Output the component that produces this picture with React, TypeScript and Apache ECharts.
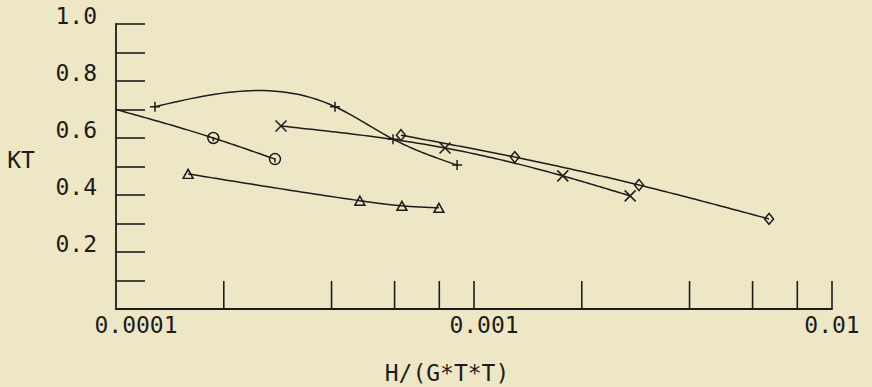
import React, { useEffect, useRef } from "react";
import * as echarts from "echarts";

// ---- data ----
const plusX = [1.285e-4, 4.09e-4, 5.94e-4, 8.97e-4];
const plusY = [0.71, 0.71, 0.596, 0.505];

const circleX = [1.0e-4, 1.87e-4, 2.78e-4];
const circleY = [0.7, 0.6, 0.526];
const circleMarked = [false, true, true];

const crossX = [2.89e-4, 8.3e-4, 1.77e-3, 2.73e-3];
const crossY = [0.642, 0.565, 0.467, 0.397];

const diamondX = [6.25e-4, 1.3e-3, 2.89e-3, 6.67e-3];
const diamondY = [0.61, 0.533, 0.435, 0.316];

const triangleX = [1.59e-4, 4.8e-4, 6.29e-4, 7.98e-4];
const triangleY = [0.474, 0.38, 0.362, 0.355];

const xTickValues = [2e-4, 4e-4, 6e-4, 8e-4, 1e-3, 2e-3, 4e-3, 6e-3, 8e-3, 1e-2];
const xTickLabels: Record<string, string> = { "-4": "0.0001", "-3": "0.001", "-2": "0.01" };
const yTickLabels = ["0.2", "0.4", "0.6", "0.8", "1.0"];

const xAxisTitle = "H/(G*T*T)";
const yAxisTitle = "KT";

// ---- style ----
const INK = "#1c1c1c";
const BG = "#ede7c6";
const FONT = "DejaVu Sans Mono";
const FS = 23;

function naturalSpline(px: number[], py: number[]) {
  const n = px.length;
  const M = new Array(n).fill(0);
  if (n > 2) {
    const h: number[] = [];
    for (let i = 0; i < n - 1; i++) h[i] = px[i + 1] - px[i];
    const a: number[] = [], b: number[] = [], c: number[] = [], d: number[] = [];
    for (let i = 1; i < n - 1; i++) {
      a.push(h[i - 1]);
      b.push(2 * (h[i - 1] + h[i]));
      c.push(h[i]);
      d.push(6 * ((py[i + 1] - py[i]) / h[i] - (py[i] - py[i - 1]) / h[i - 1]));
    }
    const m = b.length;
    for (let i = 1; i < m; i++) {
      const w = a[i] / b[i - 1];
      b[i] -= w * c[i - 1];
      d[i] -= w * d[i - 1];
    }
    const sol = new Array(m);
    sol[m - 1] = d[m - 1] / b[m - 1];
    for (let i = m - 2; i >= 0; i--) sol[i] = (d[i] - c[i] * sol[i + 1]) / b[i];
    for (let i = 0; i < m; i++) M[i + 1] = sol[i];
  }
  return M;
}

function evalSeg(px: number[], py: number[], M: number[], i: number, x: number) {
  const h = px[i + 1] - px[i];
  const A = (px[i + 1] - x) / h;
  const B = (x - px[i]) / h;
  return A * py[i] + B * py[i + 1] + ((A * A * A - A) * M[i] + (B * B * B - B) * M[i + 1]) * (h * h) / 6;
}

function curveSeries(xs: number[], ys: number[]) {
  return {
    type: "custom",
    data: xs.map((x, i) => [x, ys[i]]),
    encode: { x: 0, y: 1 },
    clip: true,
    silent: true,
    z: 2,
    renderItem: (params: any, api: any) => {
      const i = params.dataIndex;
      if (i >= xs.length - 1) return { type: "group", children: [] };
      const pts = xs.map((x, k) => api.coord([x, ys[k]]));
      const px = pts.map((p: number[]) => p[0]);
      const py = pts.map((p: number[]) => p[1]);
      const M = naturalSpline(px, py);
      const seg: number[][] = [];
      const steps = 30;
      for (let s = 0; s <= steps; s++) {
        const x = px[i] + ((px[i + 1] - px[i]) * s) / steps;
        seg.push([x, evalSeg(px, py, M, i, x)]);
      }
      return {
        type: "polyline",
        shape: { points: seg },
        style: { stroke: INK, lineWidth: 1.5, fill: "none" },
      };
    },
  };
}

function markerSeries(xs: number[], ys: number[], symbol: string, size: any, marked?: boolean[]) {
  const data: number[][] = [];
  xs.forEach((x, i) => {
    if (!marked || marked[i]) data.push([x, ys[i]]);
  });
  return {
    type: "scatter",
    data,
    symbol,
    symbolSize: size,
    z: 3,
    silent: true,
    itemStyle: { color: "rgba(0,0,0,0)", borderColor: INK, borderWidth: 1.5, opacity: 1 },
  };
}

export default function App() {
  const ref = useRef<HTMLDivElement>(null);

  useEffect(() => {
    if (!ref.current) return;
    const chart = echarts.init(ref.current, null, { renderer: "svg" });
    const txt = { fontFamily: FONT, fontSize: FS, color: INK };
    chart.setOption({
      animation: false,
      backgroundColor: BG,
      grid: { left: 116, right: 40, top: 24, bottom: 78, containLabel: false },
      xAxis: {
        type: "log",
        logBase: 10,
        min: 1e-4,
        max: 1e-2,
        axisLine: { show: true, lineStyle: { color: INK, width: 1.8 } },
        axisTick: { show: false },
        minorTick: { show: false },
        splitLine: { show: false },
        axisLabel: {
          margin: 4,
          ...txt,
          formatter: (v: number) => {
            const k = String(Math.round(Math.log10(v)));
            const style = k === "-4" ? "a" : k === "-3" ? "b" : "c";
            return `{${style}|${xTickLabels[k] ?? ""}}`;
          },
          rich: {
            a: { ...txt, padding: [0, 0, 0, 40] },
            b: { ...txt, padding: [0, 0, 0, 20] },
            c: { ...txt },
          },
        },
      },
      yAxis: {
        type: "value",
        min: 0,
        max: 1,
        interval: 0.1,
        axisLine: { show: true, lineStyle: { color: INK, width: 1.8 } },
        axisTick: { show: true, inside: true, length: 29, lineStyle: { color: INK, width: 1.6 } },
        splitLine: { show: false },
        axisLabel: {
          margin: 19,
          ...txt,
          verticalAlign: "bottom",
          lineHeight: 16,
          formatter: (v: number) => {
            const k = Math.round(v * 10);
            if (k > 0 && k % 2 === 0) return yTickLabels[k / 2 - 1];
            return "";
          },
        },
      },
      graphic: [
        {
          type: "text",
          x: 21,
          y: 160,
          style: { text: yAxisTitle, fontFamily: FONT, fontSize: FS, fill: INK, textAlign: "center", textVerticalAlign: "middle" },
        },
        {
          type: "text",
          x: 447,
          y: 373,
          style: { text: xAxisTitle, fontFamily: FONT, fontSize: FS, fill: INK, textAlign: "center", textVerticalAlign: "middle" },
        },
      ],
      series: [
        {
          type: "custom",
          data: xTickValues.map((v) => [v, 0]),
          encode: { x: 0, y: 1 },
          clip: false,
          silent: true,
          z: 1,
          renderItem: (params: any, api: any) => {
            const p = api.coord([api.value(0), 0]);
            return {
              type: "line",
              shape: { x1: p[0], y1: p[1], x2: p[0], y2: p[1] - 28 },
              style: { stroke: INK, lineWidth: 1.6 },
            };
          },
        },
        curveSeries(plusX, plusY),
        curveSeries(circleX, circleY),
        curveSeries(crossX, crossY),
        curveSeries(diamondX, diamondY),
        curveSeries(triangleX, triangleY),
        markerSeries(plusX, plusY, "path://M5,0L5,10M0,5L10,5", 10),
        markerSeries(circleX, circleY, "path://M5,0A5,5 0 1 1 5,10A5,5 0 1 1 5,0ZM5,4L5,8", 11, circleMarked),
        markerSeries(crossX, crossY, "path://M0,0L10,10M0,10L10,0", 11),
        markerSeries(diamondX, diamondY, "diamond", [9, 11]),
        markerSeries(triangleX, triangleY, "triangle", [10, 9]),
      ],
    });
    return () => chart.dispose();
  }, []);

  return (
    <div
      ref={ref}
      style={{ position: "fixed", left: 0, top: 0, width: 872, height: 387 }}
    />
  );
}
